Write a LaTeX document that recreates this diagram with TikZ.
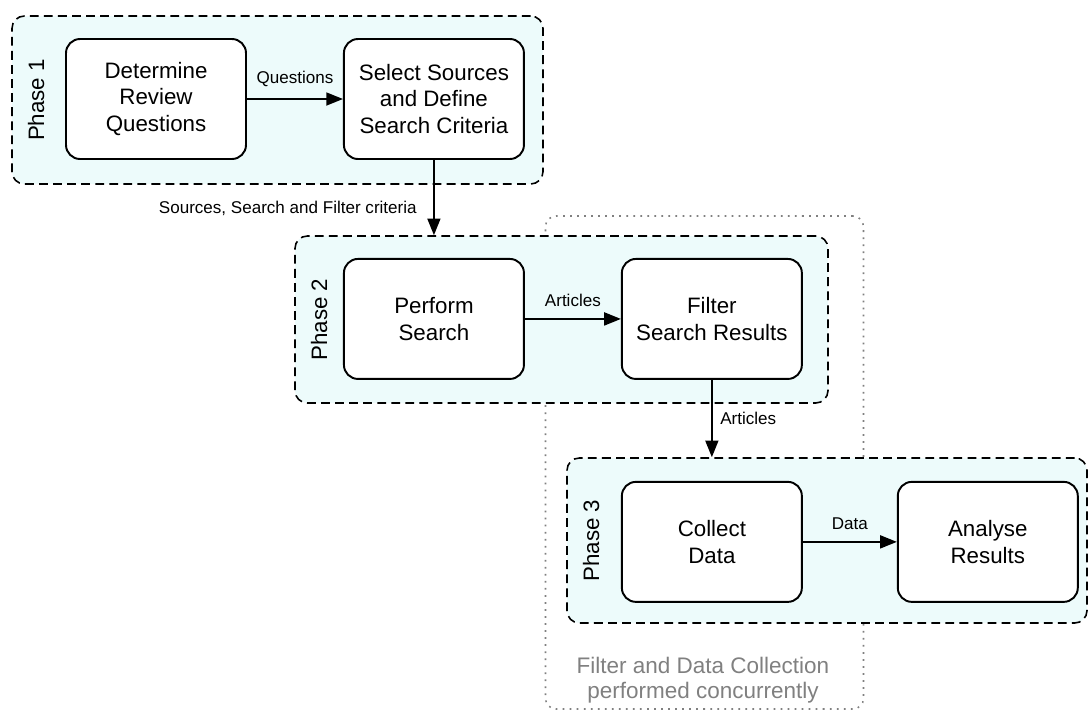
\documentclass[tikz,border=0pt]{standalone}
\usepackage{fontspec}
\setmainfont{Liberation Sans}
\usetikzlibrary{positioning,arrows.meta,backgrounds,calc}
\definecolor{phasefill}{HTML}{EDFBFB}
\definecolor{concgray}{HTML}{808080}
\tikzstyle{pbox}=[rectangle, rounded corners=8pt, draw=black, fill=white
, line width=1.1pt, minimum width=3.6cm, minimum height=2.4cm, align=center, font=\fontsize{12.7}{15}\selectfont]
\tikzstyle{phase}=[rectangle, rounded corners=7pt, draw=black, fill=phasefill, line width=0.9pt, dash pattern=on 5pt off 3pt]
\tikzstyle{conc}=[rectangle, rounded corners=6pt, draw=concgray, line width=0.9pt, dash pattern=on 1pt off 3pt]
\tikzstyle{plabel}=[rotate=90, font=\fontsize{12.7}{15}\selectfont]
\tikzstyle{flow}=[-{Triangle[length=9.5pt,width=7.4pt]}, line width=1pt]
\tikzstyle{elabel}=[font=\fontsize{9.7}{11}\selectfont]

\begin{document}
\begin{tikzpicture}[node distance=0mm]
    \useasboundingbox (0,0) rectangle (21.78,-14.22);

    \node (det) [pbox] at (3.12,-1.98) {Determine\\Review\\Questions};
    \node (sel) [pbox, right=1.92cm of det] {Select Sources\\and Define\\Search Criteria};

    \node (perf) [pbox, below=1.96cm of sel] {Perform\\Search};
    \node (filt) [pbox, right=1.92cm of perf] {Filter\\Search Results};

    \node (coll) [pbox, below=2.02cm of filt] {Collect\\Data};
    \node (anal) [pbox, right=1.88cm of coll] {Analyse\\Results};

% phases
    \begin{scope}[on background layer]
    \node (conc) [conc, minimum width=6.36cm, minimum height=9.86cm] at (14.09,-9.25) {};
    \node (ph1) [phase, minimum width=10.62cm, minimum height=3.36cm] at (5.55,-2.0) {};
    \node (ph2) [phase, minimum width=10.66cm, minimum height=3.34cm] at (11.23,-6.39) {};
    \node (ph3) [phase, minimum width=10.4cm, minimum height=3.3cm] at (16.54,-10.81) {};
    \end{scope}

    \node (p1) [plabel] at ($(ph1.west)+(0.5,0)$) {Phase 1};
    \node (p2) [plabel] at ($(ph2.west)+(0.5,0)$) {Phase 2};
    \node (p3) [plabel] at ($(ph3.west)+(0.5,0)$) {Phase 3};

    \node (cnote) [align=center, text=concgray, font=\fontsize{12.8}{14.5}\selectfont] at (14.06,-13.6)
	{Filter and Data Collection\\performed concurrently};

% lines
   \draw[flow] (det.east) -- node[elabel, above=3pt] {Questions} (sel.west);
   \draw[flow] (sel.south) -- node[elabel, pos=0.64, left=6pt] {Sources, Search and Filter criteria} (sel.south |- ph2.north);
   \draw[flow] (perf.east) -- node[elabel, above=3pt] {Articles} (filt.west);
   \draw[flow] (filt.south) -- node[elabel, pos=0.5, right=1pt] {Articles} (filt.south |- ph3.north);
   \draw[flow] (coll.east) -- node[elabel, above=3pt] {Data} (anal.west);
\end{tikzpicture}
\end{document}
